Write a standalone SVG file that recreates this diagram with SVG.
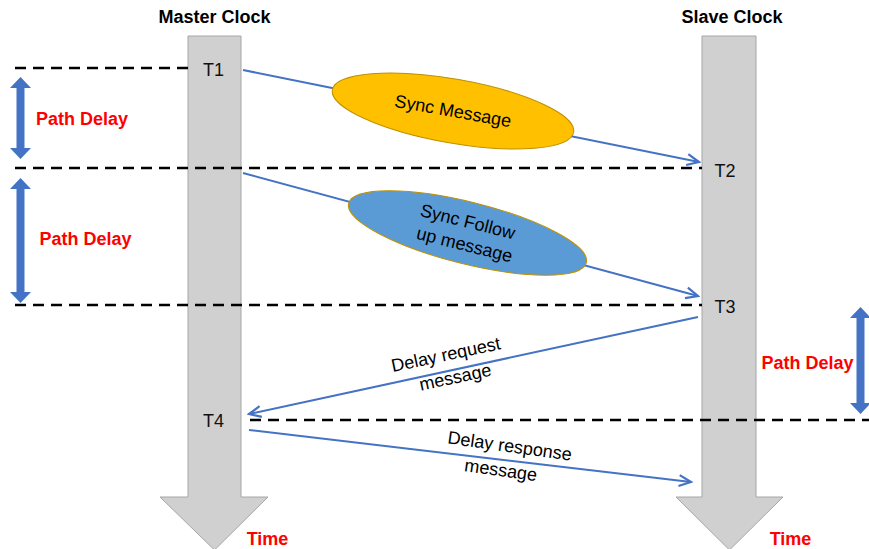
<svg xmlns="http://www.w3.org/2000/svg" width="869" height="549" viewBox="0 0 869 549">
  <defs>
    <marker id="open-arrow" markerUnits="userSpaceOnUse" markerWidth="16" markerHeight="14" viewBox="0 0 16 14" refX="14" refY="7" orient="auto">
      <path d="M2,1.5 L14,7 L2,12.5" fill="none" stroke="#4472C4" stroke-width="2.2" stroke-linejoin="miter"/>
    </marker>
    <style>
      .clock { fill: #D0D0D0; stroke: #A6A6A6; stroke-width: 1; }
      .title { font-family: "Liberation Sans", Arial, sans-serif; font-weight: bold; font-size: 18px; fill: #000; text-anchor: middle; }
      .tick { font-family: "Liberation Sans", Arial, sans-serif; font-size: 18px; fill: #111; text-anchor: middle; }
      .red { font-family: "Liberation Sans", Arial, sans-serif; font-weight: bold; font-size: 18px; fill: #FF0000; text-anchor: middle; }
      .msg { font-family: "Liberation Sans", Arial, sans-serif; font-size: 18px; fill: #000; text-anchor: middle; }
      .dash { stroke: #000; stroke-width: 2.5; stroke-dasharray: 11 7; fill: none; }
      .flow { stroke: #4472C4; stroke-width: 2; fill: none; marker-end: url(#open-arrow); }
      .span { fill: #4472C4; }
    </style>
  </defs>

  <!-- time axes of the two clocks -->
  <g id="master-clock">
    <path class="clock" d="M188,36 H241 V497 H268 L214.5,550 L160,497 H188 Z"/>
    <text class="title" x="214.5" y="23">Master Clock</text>
    <text class="red" x="267.5" y="545">Time</text>
  </g>
  <g id="slave-clock">
    <path class="clock" d="M702,36 H756 V497 H783 L729.5,550 L676,497 H702 Z"/>
    <text class="title" x="732" y="23">Slave Clock</text>
    <text class="red" x="790.5" y="545">Time</text>
  </g>

  <!-- timestamp reference lines -->
  <g id="reference-lines">
    <line class="dash" x1="15" y1="68" x2="188" y2="68"/>
    <line class="dash" x1="15" y1="168" x2="702" y2="168"/>
    <line class="dash" x1="15" y1="305" x2="702" y2="305"/>
    <line class="dash" x1="250" y1="420" x2="869" y2="420"/>
  </g>

  <!-- message connectors -->
  <g id="connectors">
    <line class="flow" x1="243" y1="70" x2="699" y2="162"/>
    <line class="flow" x1="243" y1="173" x2="698" y2="296"/>
    <line class="flow" x1="698" y1="317" x2="249" y2="414"/>
    <line class="flow" x1="249" y1="430" x2="691" y2="482"/>
  </g>

  <!-- timestamps -->
  <g id="t1"><text class="tick" x="213.5" y="76">T1</text></g>
  <g id="t2"><text class="tick" x="725" y="177">T2</text></g>
  <g id="t3"><text class="tick" x="725" y="313">T3</text></g>
  <g id="t4"><text class="tick" x="213.5" y="427">T4</text></g>

  <!-- message bubbles -->
  <g id="sync-message">
    <ellipse cx="453" cy="111" rx="122.5" ry="32" transform="rotate(10 453 111)" fill="#FFC000" stroke="#BF9000" stroke-width="1"/>
    <text class="msg" x="453" y="117" transform="rotate(10 453 111)">Sync Message</text>
  </g>
  <g id="sync-follow-up">
    <ellipse cx="467.5" cy="233" rx="122.5" ry="31" transform="rotate(14 467.5 233)" fill="#5B9BD5" stroke="#BF9000" stroke-width="1"/>
    <text class="msg" transform="rotate(14 467.5 233)">
      <tspan x="467.5" y="228">Sync Follow</tspan>
      <tspan x="467.5" y="251">up message</tspan>
    </text>
  </g>
  <g id="delay-request">
    <text class="msg" transform="rotate(-12 450 362)">
      <tspan x="450" y="360">Delay request</tspan>
      <tspan x="452" y="384">message</tspan>
    </text>
  </g>
  <g id="delay-response">
    <text class="msg" transform="rotate(8 508 462)">
      <tspan x="510" y="452">Delay response</tspan>
      <tspan x="502" y="477">message</tspan>
    </text>
  </g>

  <!-- path delay spans -->
  <g id="path-delay-1">
    <path class="span" d="M20.5,77 L31,88 H24.5 V148 H31 L20.5,159 L10,148 H16.5 V88 H10 Z"/>
    <text class="red" x="82" y="125">Path Delay</text>
  </g>
  <g id="path-delay-2">
    <path class="span" d="M20.5,178 L31,189 H24.5 V292 H31 L20.5,303 L10,292 H16.5 V189 H10 Z"/>
    <text class="red" x="85.5" y="245">Path Delay</text>
  </g>
  <g id="path-delay-3">
    <path class="span" d="M860.5,307 L871,318 H864.5 V403 H871 L860.5,414 L850,403 H856.5 V318 H850 Z"/>
    <text class="red" x="807.5" y="369">Path Delay</text>
  </g>
</svg>
